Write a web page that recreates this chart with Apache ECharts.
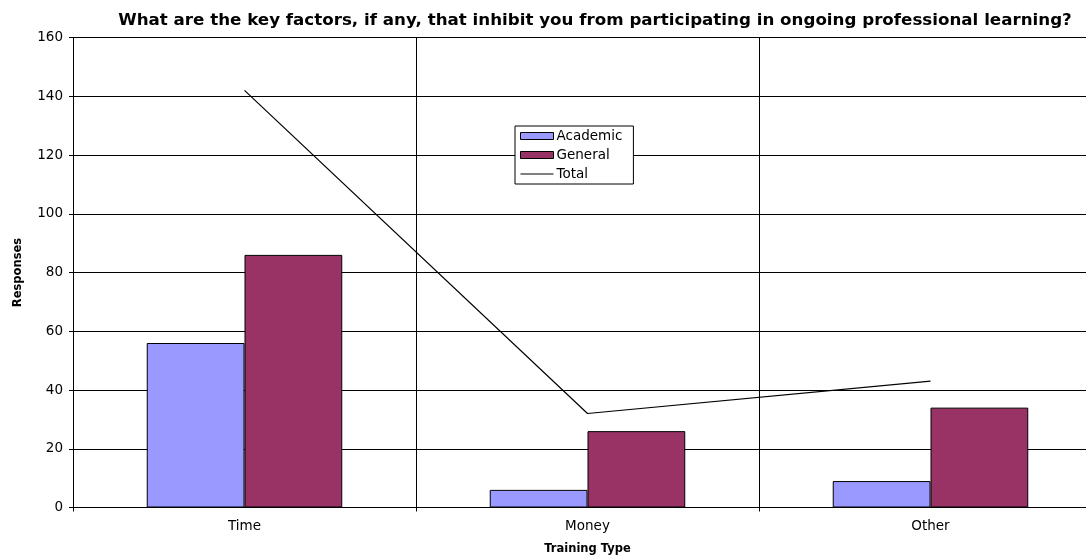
<!DOCTYPE html>
<html>
<head>
<meta charset="utf-8">
<script src="https://cdn.jsdelivr.net/npm/echarts@6/dist/echarts.min.js"></script>
<style>
  html, body { margin: 0; padding: 0; background: #fff; }
  #chart { width: 1086px; height: 556px; }
</style>
</head>
<body>
<div id="chart"></div>
<script>
// Barriers to ongoing professional learning, by response group
const categories = ['Time', 'Money', 'Other'];
const academic = [56, 6, 9];
const general = [86, 26, 34];
const total = [142, 32, 43];
const yTicks = { min: 0, max: 160, step: 20 };

const FONT = '"DejaVu Sans", Verdana, sans-serif';
const chart = echarts.init(document.getElementById('chart'));

chart.setOption({
  backgroundColor: '#fff',
  animation: false,
  textStyle: { fontFamily: FONT, color: '#000' },
  title: {
    text: 'What are the key factors, if any, that inhibit you from participating in ongoing professional learning?',
    left: 590, top: 7, textAlign: 'center',
    textStyle: { fontFamily: FONT, fontSize: 16.7, fontWeight: 'bold', color: '#000' }
  },
  legend: {
    orient: 'vertical',
    left: 515, top: 126,
    padding: [3, 11, 3, 5],
    itemWidth: 33, itemHeight: 7, itemGap: 5,
    backgroundColor: '#fff',
    borderColor: '#000', borderWidth: 1, borderRadius: 0,
    itemStyle: { borderWidth: 1, borderColor: '#000' },
    textStyle: { fontFamily: FONT, fontSize: 13.5, lineHeight: 14, color: '#000', padding: [0, 0, 0, -2] },
    data: [
      { name: 'Academic', icon: 'rect' },
      { name: 'General', icon: 'rect' },
      { name: 'Total', icon: 'path://M0,0L33,0L33,1L0,1Z', itemStyle: { borderWidth: 0, color: '#000' } }
    ]
  },
  grid: {
    left: 73, top: 37.5, width: 1029, height: 470,
    containLabel: false, outerBoundsMode: 'none'
  },
  xAxis: {
    type: 'category',
    data: categories,
    boundaryGap: true,
    name: 'Training Type',
    nameLocation: 'middle',
    nameGap: 36,
    nameTextStyle: { fontFamily: FONT, fontSize: 11.5, fontWeight: 'bold', color: '#000' },
    axisLine: { lineStyle: { color: '#000', width: 1 } },
    axisTick: { show: true, length: 4, lineStyle: { color: '#000' } },
    axisLabel: { fontFamily: FONT, fontSize: 13.5, color: '#000', margin: 12 },
    splitLine: { show: true, lineStyle: { color: '#000', width: 1 } }
  },
  yAxis: {
    type: 'value',
    min: yTicks.min, max: yTicks.max, interval: yTicks.step,
    name: 'Responses',
    nameLocation: 'middle',
    nameGap: 49,
    nameTextStyle: { fontFamily: FONT, fontSize: 11.5, fontWeight: 'bold', color: '#000' },
    axisLine: { show: true, lineStyle: { color: '#000', width: 1 } },
    axisTick: { show: true, length: 4, lineStyle: { color: '#000' } },
    axisLabel: { fontFamily: FONT, fontSize: 13.5, color: '#000', margin: 10 },
    splitLine: { show: true, lineStyle: { color: '#000', width: 1 } }
  },
  series: [
    {
      name: 'Academic', type: 'bar', data: academic,
      barGap: '0%', barCategoryGap: '43%',
      itemStyle: { color: '#9999FF', borderColor: '#000', borderWidth: 1 }
    },
    {
      name: 'General', type: 'bar', data: general,
      barGap: '0%', barCategoryGap: '43%',
      itemStyle: { color: '#993366', borderColor: '#000', borderWidth: 1 }
    },
    {
      name: 'Total', type: 'line', data: total,
      symbol: 'none',
      lineStyle: { color: '#000', width: 1.2 },
      itemStyle: { color: '#000' }
    }
  ]
});
</script>
</body>
</html>
